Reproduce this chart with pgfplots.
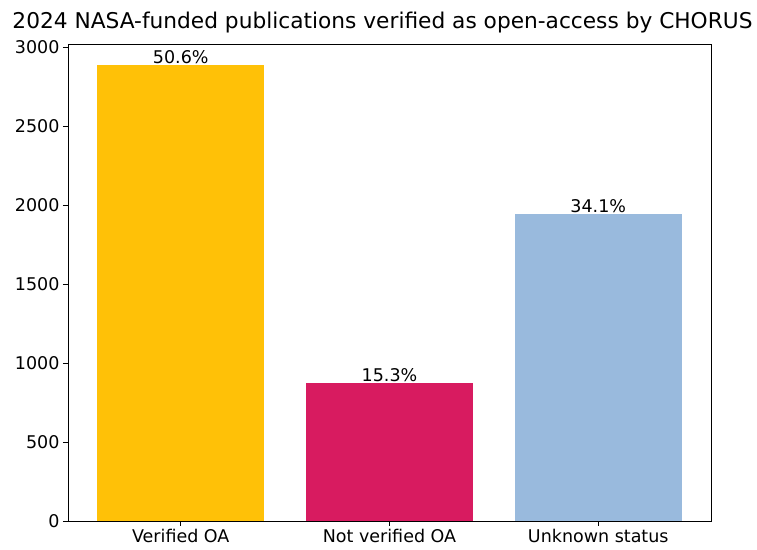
\documentclass[border=0pt]{standalone}
\usepackage{fontspec}
\setmainfont{DejaVu Sans}
\usepackage{pgfplots}
\pgfplotsset{compat=1.18}
\definecolor{cyel}{HTML}{FFC107}
\definecolor{cred}{HTML}{D81B60}
\definecolor{cblu}{HTML}{99BADD}
\begin{document}
\begin{tikzpicture}
\begin{axis}[
  scale only axis, width=643pt, height=477pt,
  xmin=-0.54, xmax=2.54, ymin=0, ymax=3020,
  xtick={0,1,2}, xticklabels={Verified OA, Not verified OA, Unknown status},
  ytick={0,500,...,3000},
  tick align=outside, tick pos=left, major tick length=5pt,
  tick style={black, line width=0.9pt},
  /pgf/number format/assume math mode=true,
  /pgf/number format/1000 sep={},
  tick label style={font=\fontsize{17.5}{20}\selectfont, text=black},
  title={2024 NASA-funded publications verified as open-access by CHORUS},
  title style={font=\fontsize{21.7}{25}\selectfont, anchor=south, yshift=1pt, xshift=-7pt},
  axis line style={black, line width=0.9pt},
  ybar, bar shift=0pt, bar width=0.8,
  nodes near coords, point meta=explicit symbolic,
  every node near coord/.style={font=\fontsize{17.5}{20}\selectfont, text=black, inner sep=1pt, anchor=south},
]
\addplot[fill=cyel, draw=none] coordinates {(0,2887) [50.6\%]};
\addplot[fill=cred, draw=none] coordinates {(1,873) [15.3\%]};
\addplot[fill=cblu, draw=none] coordinates {(2,1945) [34.1\%]};
\end{axis}
\path (current axis.south west) ++(-68pt,-29pt) coordinate (bbA);
\path (current axis.north east) ++(46pt,44pt) coordinate (bbB);
\pgfresetboundingbox
\useasboundingbox (bbA) rectangle (bbB);
\end{tikzpicture}
\end{document}
